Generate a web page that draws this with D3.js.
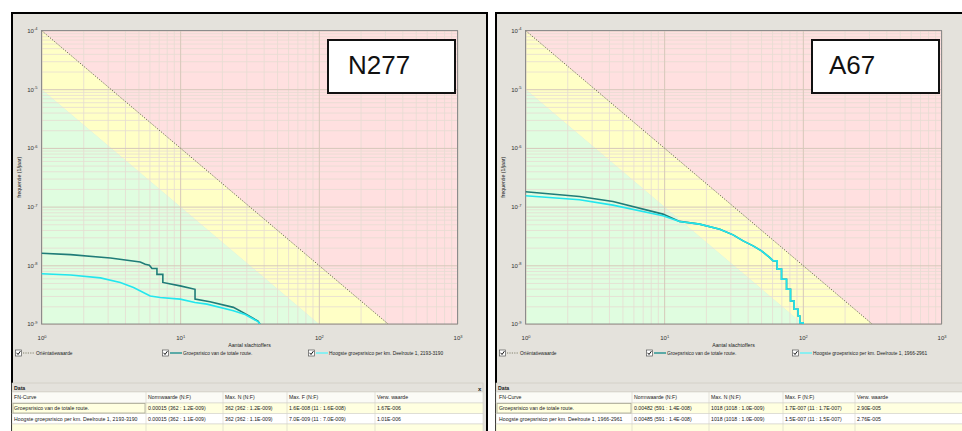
<!DOCTYPE html>
<html lang="nl">
<head>
<meta charset="UTF-8">
<title>FN-curves N277 / A67</title>
<script src="https://d3js.org/d3.v7.min.js"></script>
<style>
  body { margin: 0; background: #fff; }
  svg { display: block; font-family: "Liberation Sans", Arial, sans-serif; }
  .small { font-size: 5.2px; fill: #222; }
  .legend-text { font-size: 4.8px; fill: #222; }
  .tick text { font-size: 6px; fill: #333; }
</style>
</head>
<body>
<div id="chart"></div>
<script>
// ---- data ----
const xTicks = [1, 10, 100, 1000];
const yTicks = [1e-4, 1e-5, 1e-6, 1e-7, 1e-8, 1e-9];

// orientation value and the 10x lower line, as end points [N, F]
const orientatie = [[1, 1e-4], [316, 1e-9]];
const lowerBand = [[1, 1e-5], [100, 1e-9]];

const n277Total = [[1, 1.6e-8], [1.62, 1.52e-8], [3.14, 1.33e-8], [5.15, 1.14e-8], [5.6, 1.04e-8],
  [6.0, 1.0e-8], [6.26, 8.8e-9], [6.8, 8.8e-9], [6.8, 7.0e-9], [7.5, 7.0e-9], [7.5, 5.1e-9],
  [10, 4.46e-9], [12.8, 3.9e-9], [12.8, 2.65e-9], [16.4, 2.39e-9], [24.2, 1.92e-9],
  [29.4, 1.5e-9], [36.4, 1.12e-9], [37.6, 1e-9]];
const n277High = [[1, 7.2e-9], [1.62, 6.85e-9], [2.66, 6.1e-9], [3.7, 5.1e-9], [4.61, 4.19e-9],
  [6.08, 3.0e-9], [7.18, 2.83e-9], [10, 2.65e-9], [12.8, 2.33e-9], [15.6, 2.18e-9],
  [24.2, 1.68e-9], [29.4, 1.45e-9], [36.4, 1.1e-9], [37.6, 1e-9]];

const a67Total = [[1, 1.79e-7], [2.45, 1.49e-7], [4.27, 1.22e-7], [9.8, 7.45e-8], [12.9, 5.6e-8],
  [18, 5.03e-8], [25.2, 4.1e-8], [31.4, 3.3e-8], [37.1, 2.61e-8], [43.8, 2.14e-8], [50.3, 1.76e-8],
  [57.8, 1.35e-8], [61.1, 1.19e-8], [65.3, 1.19e-8], [65.3, 8.6e-9], [70.2, 8.6e-9], [70.2, 5.8e-9],
  [76.3, 5.8e-9], [76.3, 3.9e-9], [81.5, 3.9e-9], [81.5, 2.47e-9], [86.6, 2.47e-9], [86.6, 1.78e-9],
  [92.5, 1.78e-9], [92.5, 1.37e-9], [95.1, 1.37e-9], [95.1, 1.05e-9], [100.5, 1.05e-9], [100.5, 1e-9]];
const a67High = [[1, 1.53e-7], [2.45, 1.31e-7], [4.27, 1.06e-7], [9.8, 6.97e-8], [12.9, 5.57e-8],
  [18, 5.03e-8], [25.2, 4.1e-8], [31.4, 3.3e-8], [37.1, 2.61e-8], [43.8, 2.14e-8], [50.3, 1.76e-8],
  [57.8, 1.35e-8], [61.1, 1.19e-8], [65.3, 1.19e-8], [65.3, 8.6e-9], [70.2, 8.6e-9], [70.2, 5.8e-9],
  [76.3, 5.8e-9], [76.3, 3.9e-9], [81.5, 3.9e-9], [81.5, 2.47e-9], [86.6, 2.47e-9], [86.6, 1.78e-9],
  [92.5, 1.78e-9], [92.5, 1.37e-9], [95.1, 1.37e-9], [95.1, 1.05e-9], [100.5, 1.05e-9], [100.5, 1e-9]];

const tableHeaders = ["FN-Curve", "Normwaarde (N:F)", "Max. N (N:F)", "Max. F (N:F)", "Verw. waarde"];
const n277Rows = [
  ["Groepsrisico van de totale route.", "0.00015 (362 : 1.2E-009)", "362 (362 : 1.2E-009)", "1.6E-008 (11 : 1.6E-008)", "1.67E-006"],
  ["Hoogste groepsrisico per km. Deelroute 1, 2193-3190", "0.00015 (362 : 1.1E-009)", "362 (362 : 1.1E-009)", "7.0E-009 (11 : 7.0E-009)", "1.01E-006"]
];
const a67Rows = [
  ["Groepsrisico van de totale route.", "0.00482 (591 : 1.4E-008)", "1018 (1018 : 1.0E-009)", "1.7E-007 (11 : 1.7E-007)", "2.90E-005"],
  ["Hoogste groepsrisico per km. Deelroute 1, 1966-2961", "0.00485 (591 : 1.4E-008)", "1018 (1018 : 1.0E-009)", "1.5E-007 (11 : 1.5E-007)", "2.76E-005"]
];

const panels = [
  { ox: 0, name: "N277", total: n277Total, high: n277High, rows: n277Rows,
    highLabel: "Hoogste groepsrisico per km. Deelroute 1, 2193-3190",
    cols: [12, 146, 223, 287, 375, 483], close: true },
  { ox: 484, name: "A67", total: a67Total, high: a67High, rows: a67Rows,
    highLabel: "Hoogste groepsrisico per km. Deelroute 1, 1966-2961",
    cols: [13, 148, 225, 299, 371, 490], close: false }
];

// ---- drawing ----
const svg = d3.select("#chart").append("svg").attr("width", 962).attr("height", 431);

const plot = { left: 41.5, right: 457.5, top: 30.5, bottom: 324 };
const x = d3.scaleLog().domain([1, 1000]).range([plot.left, plot.right]);
const y = d3.scaleLog().domain([1e-4, 1e-9]).range([plot.top, plot.bottom]);

const darkTeal = "#1f7c78", cyan = "#22e6ee";

svg.append("defs").append("clipPath").attr("id", "plotclip")
  .append("rect").attr("x", plot.left).attr("y", plot.top)
  .attr("width", plot.right - plot.left).attr("height", plot.bottom - plot.top);

function supLabel(sel, exp) {
  sel.text(null);
  sel.append("tspan").text("10");
  sel.append("tspan").attr("dy", -2.5).style("font-size", "4px").text(exp);
}

panels.forEach(p => {
  const g = svg.append("g").attr("transform", `translate(${p.ox},0)`);

  // panel frame
  g.append("rect").attr("x", 12).attr("y", 13).attr("width", 475).attr("height", 440)
    .attr("fill", "#e4e2dc").attr("stroke", "#000").attr("stroke-width", 2);

  // zones
  const poly = pts => pts.map(d => [x(d[0]), y(d[1])]);
  const zones = g.append("g").attr("clip-path", "url(#plotclip)");
  zones.append("polygon").attr("fill", "#ffe0e0")
    .attr("points", poly([orientatie[0], orientatie[1], [1000, 1e-9], [1000, 1e-4]]).join(" "));
  zones.append("polygon").attr("fill", "#ffffc6")
    .attr("points", poly([orientatie[0], orientatie[1], lowerBand[1], lowerBand[0]]).join(" "));
  zones.append("polygon").attr("fill", "#e0fde0")
    .attr("points", poly([lowerBand[0], lowerBand[1], [1, 1e-9]]).join(" "));

  // grid: minor then major
  const minorX = x.ticks().filter(v => !xTicks.includes(v));
  const minorY = y.ticks().filter(v => !yTicks.some(t => Math.abs(t - v) / t < 1e-6));
  g.append("g").attr("transform", `translate(0,${plot.bottom})`)
    .call(d3.axisBottom(x).tickValues(minorX).tickSize(-(plot.bottom - plot.top)).tickFormat(""))
    .call(a => a.select(".domain").remove())
    .call(a => a.selectAll("line").attr("stroke", "#e6dcd2").attr("stroke-opacity", 0.8));
  g.append("g").attr("transform", `translate(${plot.left},0)`)
    .call(d3.axisLeft(y).tickValues(minorY).tickSize(-(plot.right - plot.left)).tickFormat(""))
    .call(a => a.select(".domain").remove())
    .call(a => a.selectAll("line").attr("stroke", "#e6dcd2").attr("stroke-opacity", 0.8));

  const xa = g.append("g").attr("transform", `translate(0,${plot.bottom})`)
    .call(d3.axisBottom(x).tickValues(xTicks).tickSize(-(plot.bottom - plot.top)).tickPadding(12))
    .call(a => a.select(".domain").remove());
  xa.selectAll("line").attr("stroke", "#d6c8ba");
  xa.selectAll(".tick text").attr("font-family", null).each(function (d) {
    supLabel(d3.select(this), String(Math.round(Math.log10(d))));
  });

  const ya = g.append("g").attr("transform", `translate(${plot.left},0)`)
    .call(d3.axisLeft(y).tickValues(yTicks).tickSize(-(plot.right - plot.left)).tickPadding(4))
    .call(a => a.select(".domain").remove());
  ya.selectAll("line").attr("stroke", "#d6c8ba");
  ya.selectAll(".tick text").attr("font-family", null).each(function (d) {
    supLabel(d3.select(this), String(Math.round(Math.log10(d))));
  });

  // plot frame
  g.append("rect").attr("x", plot.left).attr("y", plot.top)
    .attr("width", plot.right - plot.left).attr("height", plot.bottom - plot.top)
    .attr("fill", "none").attr("stroke", "#8c8c8c").attr("stroke-width", 1);

  // orientation line and FN curves
  const line = d3.line().x(d => x(d[0])).y(d => y(d[1]));
  const curves = g.append("g").attr("clip-path", "url(#plotclip)");
  curves.append("path").attr("d", line(orientatie)).attr("fill", "none")
    .attr("stroke", "#6a6a50").attr("stroke-width", 1).attr("stroke-dasharray", "1.2,1.6");
  curves.append("path").attr("d", line(p.total)).attr("fill", "none")
    .attr("stroke", darkTeal).attr("stroke-width", 1.6);
  curves.append("path").attr("d", line(p.high)).attr("fill", "none")
    .attr("stroke", cyan).attr("stroke-width", 1.6);

  // axis titles
  g.append("text").attr("class", "small").attr("x", (plot.left + plot.right) / 2).attr("y", 347)
    .attr("text-anchor", "middle").text("Aantal slachtoffers");
  g.append("text").attr("class", "small").attr("transform", `translate(21,${(plot.top + plot.bottom) / 2}) rotate(-90)`)
    .attr("text-anchor", "middle").text("frequentie (1/jaar)");

  // name box
  g.append("rect").attr("x", 328).attr("y", 40).attr("width", 127).attr("height", 53)
    .attr("fill", "#fff").attr("stroke", "#111").attr("stroke-width", 2);
  g.append("text").attr("x", p.name === "N277" ? 348 : 345).attr("y", 74)
    .style("font-family", "Helvetica, 'Liberation Sans', Arial, sans-serif")
    .style("font-size", "26px").attr("fill", "#111").text(p.name);

  // legend
  const legend = [
    { x: 4, label: "Oriëntatiewaarde", color: "#6a6a50", dash: "1.2,1.2" },
    { x: 151, label: "Groepsrisico van de totale route.", color: "#4aa3a0", dash: null },
    { x: 297, label: p.highLabel, color: "#7ff0f2", dash: null }
  ];
  legend.forEach(l => {
    const lg = g.append("g").attr("transform", `translate(${l.x + 11},353)`);
    lg.append("rect").attr("x", 0.5).attr("y", -3).attr("width", 6).attr("height", 6)
      .attr("fill", "#fff").attr("stroke", "#555").attr("stroke-width", 0.7);
    lg.append("path").attr("d", "M1.6,-0.2 L3,1.5 L5.4,-1.8").attr("fill", "none")
      .attr("stroke", "#111").attr("stroke-width", 1);
    lg.append("line").attr("x1", 8).attr("x2", 20).attr("y1", 0).attr("y2", 0)
      .attr("stroke", l.color).attr("stroke-width", l.dash ? 0.8 : 1.8)
      .attr("stroke-dasharray", l.dash);
    lg.append("text").attr("class", "legend-text").attr("x", 21).attr("y", 1.7).text(l.label);
  });

  // data table
  const c = p.cols;
  const t = g.append("g");
  t.append("rect").attr("x", 12).attr("y", 383).attr("width", c[5] - 12).attr("height", 9)
    .attr("fill", "#e4e2dc").attr("stroke", "#c9c6bd").attr("stroke-width", 0.6);
  t.append("text").attr("class", "small").attr("x", 14).attr("y", 390)
    .style("font-weight", "bold").text("Data");
  if (p.close) {
    t.append("text").attr("class", "small").attr("x", 478).attr("y", 390.5)
      .style("font-weight", "bold").style("font-size", "6px").text("x");
  }
  const rowY = [392, 403, 413.5, 424];
  const rowFill = ["#fbfbf6", "#ffffe0", "#ffffff", "#ffffe0"];
  const rowText = [tableHeaders, p.rows[0], p.rows[1], ["", "", "", "", ""]];
  rowY.forEach((ry, i) => {
    const h = i === 3 ? 12 : (rowY[i + 1] - ry);
    t.append("rect").attr("x", 12).attr("y", ry).attr("width", c[5] - 12).attr("height", h)
      .attr("fill", rowFill[i]).attr("stroke", "#d4d2c8").attr("stroke-width", 0.6);
    rowText[i].forEach((txt, j) => {
      if (j > 0) {
        t.append("line").attr("x1", c[j]).attr("x2", c[j]).attr("y1", ry).attr("y2", ry + h)
          .attr("stroke", "#d4d2c8").attr("stroke-width", 0.6);
      }
      t.append("text").attr("class", "small").attr("x", c[j] + 2).attr("y", ry + h / 2 + 1.8).text(txt);
    });
  });
  // selected first cell
  t.append("rect").attr("x", 13).attr("y", 403.5).attr("width", c[1] - 14).attr("height", 9.5)
    .attr("fill", "none").attr("stroke", "#a9a795").attr("stroke-width", 0.8);
});
</script>
</body>
</html>
